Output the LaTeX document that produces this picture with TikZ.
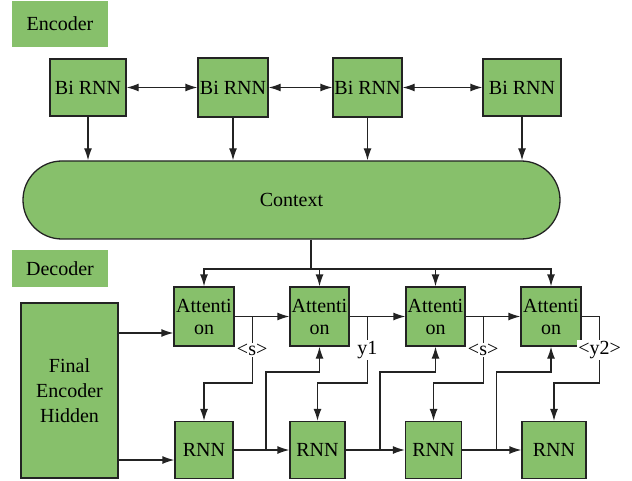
\documentclass[tikz,border=0pt]{standalone}
\usepackage{fontspec}
\setmainfont{Liberation Serif}
\usetikzlibrary{arrows.meta,calc}
\definecolor{boxgreen}{RGB}{135,192,107}
\definecolor{edgegray}{RGB}{35,35,35}

\begin{document}
\begin{tikzpicture}[x=1pt, y=-1pt, >={Latex[length=12pt,width=8pt]},
  box/.style={draw=edgegray, line width=1.3pt, fill=boxgreen, inner sep=0pt, align=center, font=\fontsize{20}{22}\selectfont},
  tag/.style={fill=boxgreen, inner sep=0pt, font=\fontsize{20}{22}\selectfont},
  lab/.style={fill=white, inner sep=1pt, font=\fontsize{20}{22}\selectfont},
  link/.style={line width=1.3pt, draw=edgegray}]
  \useasboundingbox (0,0) rectangle (632,481);

  \node[tag, minimum width=96pt, minimum height=46pt] (enc) at (60,24) {Encoder};
  \node[box, minimum width=76pt, minimum height=57pt] (b1) at (88,87.5) {Bi RNN};
  \node[box, minimum width=70pt, minimum height=59pt] (b2) at (233,87.5) {Bi RNN};
  \node[box, minimum width=69pt, minimum height=59pt] (b3) at (367.5,87.5) {Bi RNN};
  \node[box, minimum width=78pt, minimum height=57pt] (b4) at (522,87.5) {Bi RNN};
  \node[box, rounded corners=38.9pt, minimum width=537pt, minimum height=78pt] (ctx) at (291.5,200) {Context};

  \node[tag, minimum width=96pt, minimum height=37pt] (dec) at (60,268.5) {Decoder};
  \node[box, minimum width=97pt, minimum height=175pt, font=\fontsize{20}{25}\selectfont] (final) at (69.5,390.5) {Final\\Encoder\\Hidden};
  \node[box, minimum width=60pt, minimum height=59pt] (a1) at (204,316.5) {Attenti\\on};
  \node[box, minimum width=59pt, minimum height=59pt] (a2) at (319.5,316.5) {Attenti\\on};
  \node[box, minimum width=59pt, minimum height=59pt] (a3) at (435.5,316.5) {Attenti\\on};
  \node[box, minimum width=60pt, minimum height=59pt] (a4) at (551,316.5) {Attenti\\on};
  \node[box, minimum width=58pt, minimum height=57pt] (r1) at (204,450) {RNN};
  \node[box, minimum width=55pt, minimum height=57pt] (r2) at (317.5,450) {RNN};
  \node[box, minimum width=56pt, minimum height=57pt] (r3) at (433.5,450) {RNN};
  \node[box, minimum width=64pt, minimum height=57pt] (r4) at (554,450) {RNN};

  \coordinate (bus) at (311,269);
  \coordinate (low) at (0,383);
  \coordinate (high) at (0,372);

  \draw[link,<->] (b1) -- (b2);
  \draw[link,<->] (b2) -- (b3);
  \draw[link,<->] (b3) -- (b4);
  \foreach \b in {b1,b2,b3,b4}
    \draw[link,->] (\b.south) -- (\b.south |- ctx.north);

  \draw[link] (ctx.south -| bus) -- (bus);
  \foreach \a in {a1,a2,a3,a4}
    \draw[link,->] (bus) -| (\a.north);

  \foreach \p/\q in {a1/a2,a2/a3,a3/a4}
    \draw[link,->] (\p) -- (\q);
  \foreach \p/\q in {r1/r2,r2/r3,r3/r4}
    \draw[link,->] (\p) -- (\q);

  \foreach \p/\q/\t/\r in {a1/a2/{<s>}/r1, a2/a3/y1/r2, a3/a4/{<s>}/r3} {
    \coordinate (d\p) at ($(\p.east)!0.32!(\q.west)$);
    \draw[link,->] (d\p) -- node[lab]{\t} (d\p |- low) -| (\r.north);
  }
  \coordinate (da4) at ($(a4.east)+(18,0)$);
  \draw[link,->] (a4.east) -- (da4) -- node[lab]{<y2>} (da4 |- low) -| (r4.north);

  \foreach \p/\q/\a in {r1/r2/a2, r2/r3/a3, r3/r4/a4} {
    \coordinate (u\p) at ($(\p.east)!0.58!(\q.west)$);
    \draw[link,->] (u\p) |- (\a.south |- high) -- (\a.south);
  }

  \coordinate (in1) at ($(a1.west)+(0,16.5)$);
  \coordinate (in2) at ($(r1.west)+(0,10)$);
  \draw[link,->] (final.east |- in1) -- (in1);
  \draw[link,->] (final.east |- in2) -- (in2);
\end{tikzpicture}
\end{document}
